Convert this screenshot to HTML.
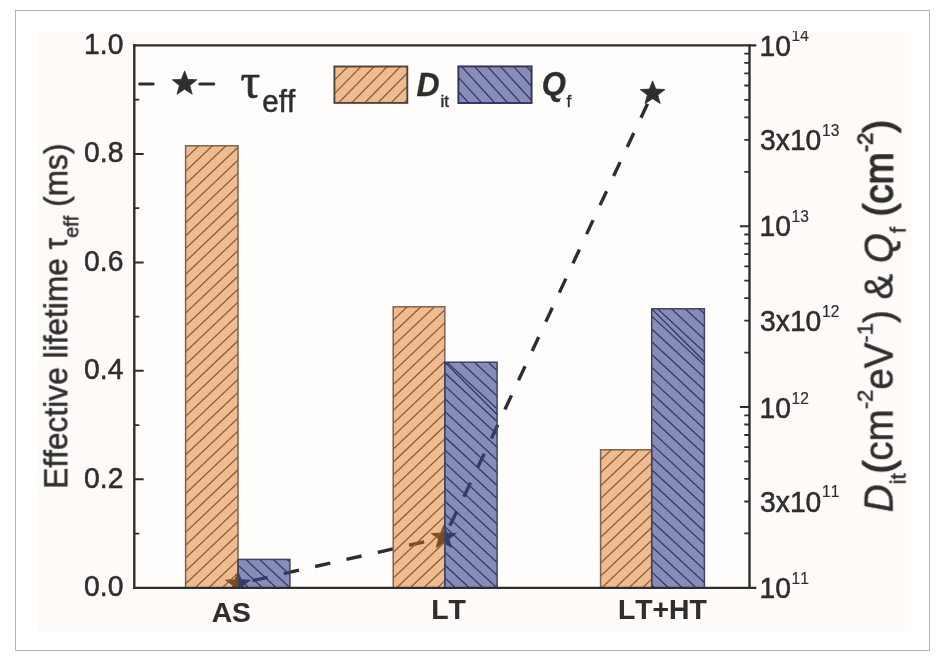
<!DOCTYPE html>
<html lang="en"><head><meta charset="utf-8"><title>Effective lifetime, Dit and Qf chart</title>
<style>html,body{margin:0;padding:0;background:#fff;overflow:hidden}svg{display:block}text{font-family:"Liberation Sans",sans-serif;fill:#2e2e2e;stroke:#2e2e2e;stroke-linejoin:round;font-kerning:none}.ser{font-family:"Liberation Serif",serif}</style>
</head><body>
<svg width="951" height="658" viewBox="0 0 951 658">
<rect x="0" y="0" width="951" height="658" fill="#ffffff"/>
<rect x="15.5" y="10.5" width="914" height="640" fill="#ffffff" stroke="#b4b4b4" stroke-width="1"/>
<rect x="38.0" y="31.6" width="873.2" height="600.2" fill="#fefbf8"/>
<defs>
<clipPath id="imgclip"><rect x="38.0" y="31.6" width="873.2" height="600.2"/></clipPath>
<clipPath id="plotclip"><rect x="134.3" y="45.4" width="615.2" height="542.4"/></clipPath>
<clipPath id="coAS"><rect x="185.6" y="145.8" width="52.4" height="442.0"/></clipPath>
<clipPath id="cbAS"><rect x="238.0" y="559.4" width="51.9" height="28.4"/></clipPath>
<clipPath id="coLT"><rect x="393.2" y="306.8" width="51.6" height="281.0"/></clipPath>
<clipPath id="cbLT"><rect x="444.8" y="362.2" width="52.3" height="225.6"/></clipPath>
<clipPath id="coHT"><rect x="600.6" y="449.8" width="51.1" height="138.0"/></clipPath>
<clipPath id="cbHT"><rect x="651.7" y="308.8" width="52.7" height="279.0"/></clipPath>
<clipPath id="coLG"><rect x="334.4" y="66.5" width="72.9" height="36.4"/></clipPath>
<clipPath id="cbLG"><rect x="458.4" y="66.4" width="73.2" height="36.6"/></clipPath>
<filter id="soft" x="0" y="0" width="100%" height="100%" filterUnits="userSpaceOnUse" color-interpolation-filters="sRGB"><feGaussianBlur stdDeviation="0.55"/></filter>
</defs>
<g clip-path="url(#imgclip)"><g filter="url(#soft)">
<rect x="134.3" y="45.4" width="615.2" height="542.4" fill="#fffdfb"/>
<g clip-path="url(#plotclip)">
<path d="M238.0 584.0 L443.8 537.4" fill="none" stroke="#2e2e2e" stroke-width="3.4" stroke-dasharray="15.5 16.6" stroke-dashoffset="17.2"/>
<path d="M443.8 537.4 C 456 517.4, 632.6 133.4, 652.6 93.4" fill="none" stroke="#2e2e2e" stroke-width="3.4" stroke-dasharray="15.4 16.75" stroke-dashoffset="18.7"/>
<polygon points="238.0,571.5 241.2,579.7 250.4,580.1 243.2,585.6 245.6,594.1 238.0,589.3 230.4,594.1 232.8,585.6 225.6,580.1 234.8,579.7" fill="#2e2e2e" stroke="#2e2e2e" stroke-width="0.8" stroke-linejoin="round"/>
<polygon points="443.8,524.9 447.0,533.1 456.2,533.5 449.0,539.0 451.4,547.5 443.8,542.7 436.2,547.5 438.6,539.0 431.4,533.5 440.6,533.1" fill="#2e2e2e" stroke="#2e2e2e" stroke-width="0.8" stroke-linejoin="round"/>
<polygon points="652.6,80.9 655.8,89.1 665.0,89.5 657.8,95.0 660.2,103.5 652.6,98.7 645.0,103.5 647.4,95.0 640.2,89.5 649.4,89.1" fill="#2e2e2e" stroke="#2e2e2e" stroke-width="0.8" stroke-linejoin="round"/>
</g>
<rect x="185.6" y="145.8" width="52.4" height="442.0" fill="#de6a0b" fill-opacity="0.45"/>
<g clip-path="url(#coAS)" stroke="#8c5d3d" stroke-width="1.3" fill="none">
<path d="M184.6 146.3 L239.0 94.7 M184.6 159.2 L239.0 107.6 M184.6 172.2 L239.0 120.5 M184.6 185.1 L239.0 133.4 M184.6 198.0 L239.0 146.3 M184.6 210.9 L239.0 159.2 M184.6 223.8 L239.0 172.1 M184.6 236.7 L239.0 185.0 M184.6 249.6 L239.0 197.9 M184.6 262.5 L239.0 210.8 M184.6 275.4 L239.0 223.7 M184.6 288.2 L239.0 236.6 M184.6 301.1 L239.0 249.5 M184.6 314.0 L239.0 262.4 M184.6 326.9 L239.0 275.3 M184.6 339.8 L239.0 288.2 M184.6 352.7 L239.0 301.1 M184.6 365.6 L239.0 314.0 M184.6 378.5 L239.0 326.9 M184.6 391.4 L239.0 339.8 M184.6 404.3 L239.0 352.7 M184.6 417.2 L239.0 365.6 M184.6 430.1 L239.0 378.5 M184.6 443.0 L239.0 391.4 M184.6 455.9 L239.0 404.3 M184.6 468.8 L239.0 417.2 M184.6 481.7 L239.0 430.1 M184.6 494.6 L239.0 443.0 M184.6 507.5 L239.0 455.9 M184.6 520.4 L239.0 468.8 M184.6 533.3 L239.0 481.7 M184.6 546.2 L239.0 494.6 M184.6 559.1 L239.0 507.5 M184.6 572.0 L239.0 520.4 M184.6 584.9 L239.0 533.3 M184.6 597.8 L239.0 546.2 M184.6 610.7 L239.0 559.1 M184.6 623.6 L239.0 572.0 M184.6 636.5 L239.0 584.9"/>
</g>
<rect x="185.6" y="145.8" width="52.4" height="442.0" fill="none" stroke="#7d6352" stroke-width="1.5"/>
<rect x="238.0" y="559.4" width="51.9" height="28.4" fill="#3c458c" fill-opacity="0.61"/>
<g clip-path="url(#cbAS)" stroke="#343a66" stroke-width="1.3" fill="none">
<path d="M237.0 512.9 L290.9 563.0 M237.0 525.7 L290.9 575.8 M237.0 538.5 L290.9 588.6 M237.0 551.3 L290.9 601.4 M237.0 564.1 L290.9 614.2 M237.0 576.9 L290.9 627.0"/>
</g>
<rect x="238.0" y="559.4" width="51.9" height="28.4" fill="none" stroke="#3f4466" stroke-width="1.5"/>
<rect x="393.2" y="306.8" width="51.6" height="281.0" fill="#de6a0b" fill-opacity="0.45"/>
<g clip-path="url(#coLT)" stroke="#8c5d3d" stroke-width="1.3" fill="none">
<path d="M392.2 308.2 L445.8 257.3 M392.2 321.1 L445.8 270.2 M392.2 334.0 L445.8 283.1 M392.2 346.9 L445.8 296.0 M392.2 359.8 L445.8 308.9 M392.2 372.7 L445.8 321.8 M392.2 385.6 L445.8 334.7 M392.2 398.5 L445.8 347.6 M392.2 411.4 L445.8 360.5 M392.2 424.3 L445.8 373.4 M392.2 437.2 L445.8 386.3 M392.2 450.1 L445.8 399.2 M392.2 463.0 L445.8 412.1 M392.2 475.9 L445.8 425.0 M392.2 488.8 L445.8 437.9 M392.2 501.7 L445.8 450.8 M392.2 514.6 L445.8 463.7 M392.2 527.5 L445.8 476.6 M392.2 540.4 L445.8 489.5 M392.2 553.3 L445.8 502.4 M392.2 566.2 L445.8 515.3 M392.2 579.1 L445.8 528.2 M392.2 592.0 L445.8 541.1 M392.2 604.9 L445.8 554.0 M392.2 617.8 L445.8 566.9 M392.2 630.7 L445.8 579.8"/>
</g>
<rect x="393.2" y="306.8" width="51.6" height="281.0" fill="none" stroke="#7d6352" stroke-width="1.5"/>
<rect x="444.8" y="362.2" width="52.3" height="225.6" fill="#3c458c" fill-opacity="0.61"/>
<g clip-path="url(#cbLT)" stroke="#343a66" stroke-width="1.3" fill="none">
<path d="M443.8 320.9 L498.1 371.4 M443.8 333.7 L498.1 384.2 M443.8 346.5 L498.1 397.0 M443.8 359.3 L498.1 409.8 M443.8 372.1 L498.1 422.6 M443.8 384.9 L498.1 435.4 M443.8 397.7 L498.1 448.2 M443.8 410.5 L498.1 461.0 M443.8 423.3 L498.1 473.8 M443.8 436.1 L498.1 486.6 M443.8 448.9 L498.1 499.4 M443.8 461.7 L498.1 512.2 M443.8 474.5 L498.1 525.0 M443.8 487.3 L498.1 537.8 M443.8 500.1 L498.1 550.6 M443.8 512.9 L498.1 563.4 M443.8 525.7 L498.1 576.2 M443.8 538.5 L498.1 589.0 M443.8 551.3 L498.1 601.8 M443.8 564.1 L498.1 614.6 M443.8 576.9 L498.1 627.4"/>
</g>
<rect x="444.8" y="362.2" width="52.3" height="225.6" fill="none" stroke="#3f4466" stroke-width="1.5"/>
<rect x="600.6" y="449.8" width="51.1" height="138.0" fill="#de6a0b" fill-opacity="0.45"/>
<g clip-path="url(#coHT)" stroke="#8c5d3d" stroke-width="1.3" fill="none">
<path d="M599.6 460.9 L652.7 410.5 M599.6 473.8 L652.7 423.4 M599.6 486.7 L652.7 436.3 M599.6 499.6 L652.7 449.2 M599.6 512.5 L652.7 462.1 M599.6 525.4 L652.7 475.0 M599.6 538.3 L652.7 487.9 M599.6 551.2 L652.7 500.8 M599.6 564.1 L652.7 513.7 M599.6 577.0 L652.7 526.6 M599.6 589.9 L652.7 539.5 M599.6 602.8 L652.7 552.4 M599.6 615.7 L652.7 565.3 M599.6 628.6 L652.7 578.2"/>
</g>
<rect x="600.6" y="449.8" width="51.1" height="138.0" fill="none" stroke="#7d6352" stroke-width="1.5"/>
<rect x="651.7" y="308.8" width="52.7" height="279.0" fill="#3c458c" fill-opacity="0.61"/>
<g clip-path="url(#cbHT)" stroke="#343a66" stroke-width="1.3" fill="none">
<path d="M650.7 264.0 L705.4 314.8 M650.7 276.8 L705.4 327.6 M650.7 289.6 L705.4 340.4 M650.7 302.4 L705.4 353.2 M650.7 315.2 L705.4 366.0 M650.7 328.0 L705.4 378.8 M650.7 340.8 L705.4 391.6 M650.7 353.6 L705.4 404.4 M650.7 366.4 L705.4 417.2 M650.7 379.2 L705.4 430.0 M650.7 392.0 L705.4 442.8 M650.7 404.8 L705.4 455.6 M650.7 417.6 L705.4 468.4 M650.7 430.4 L705.4 481.2 M650.7 443.2 L705.4 494.0 M650.7 456.0 L705.4 506.8 M650.7 468.8 L705.4 519.6 M650.7 481.6 L705.4 532.4 M650.7 494.4 L705.4 545.2 M650.7 507.2 L705.4 558.0 M650.7 520.0 L705.4 570.8 M650.7 532.8 L705.4 583.6 M650.7 545.6 L705.4 596.4 M650.7 558.4 L705.4 609.2 M650.7 571.2 L705.4 622.0 M650.7 584.0 L705.4 634.8"/>
</g>
<rect x="651.7" y="308.8" width="52.7" height="279.0" fill="none" stroke="#3f4466" stroke-width="1.5"/>
<path d="M444.8 362.2 L497.1 414.5 M651.7 308.8 L704.4 361.5" stroke="#2d3260" stroke-width="1.2" fill="none"/>
<g stroke="#2e2e2e" fill="none">
<path d="M134.3 44.3 V588.9 M749.5 44.3 V588.9" stroke-width="2.4"/>
<path d="M133.1 587.8 H750.7" stroke-width="2.2"/>
<path d="M133.1 45.4 H756.3 M749.5 587.8 H756.3" stroke-width="2.2"/>
<path d="M134.3 479.3 h9.4 M134.3 370.8 h9.4 M134.3 262.4 h9.4 M134.3 153.9 h9.4" stroke-width="2"/>
<path d="M134.3 533.6 h5 M134.3 425.1 h5 M134.3 316.6 h5 M134.3 208.1 h5 M134.3 99.6 h5" stroke-width="1.8"/>
<path d="M749.5 407.0 h-9.6 M749.5 226.2 h-9.6" stroke-width="2"/>
<path d="M749.5 533.4 h-5.2 M749.5 501.5 h-5.2 M749.5 478.9 h-5.2 M749.5 461.4 h-5.2 M749.5 447.1 h-5.2 M749.5 435.0 h-5.2 M749.5 424.5 h-5.2 M749.5 415.3 h-5.2 M749.5 352.6 h-5.2 M749.5 320.7 h-5.2 M749.5 298.1 h-5.2 M749.5 280.6 h-5.2 M749.5 266.3 h-5.2 M749.5 254.2 h-5.2 M749.5 243.7 h-5.2 M749.5 234.5 h-5.2 M749.5 171.8 h-5.2 M749.5 139.9 h-5.2 M749.5 117.3 h-5.2 M749.5 99.8 h-5.2 M749.5 85.5 h-5.2 M749.5 73.4 h-5.2 M749.5 62.9 h-5.2 M749.5 53.7 h-5.2" stroke-width="1.8"/>
</g>
<text transform="translate(123.4 596.3) scale(1 1.045)" font-size="28.3" stroke-width="0.5" text-anchor="end">0.0</text>
<text transform="translate(123.4 487.8) scale(1 1.045)" font-size="28.3" stroke-width="0.5" text-anchor="end">0.2</text>
<text transform="translate(123.4 379.3) scale(1 1.045)" font-size="28.3" stroke-width="0.5" text-anchor="end">0.4</text>
<text transform="translate(123.4 270.9) scale(1 1.045)" font-size="28.3" stroke-width="0.5" text-anchor="end">0.6</text>
<text transform="translate(123.4 162.4) scale(1 1.045)" font-size="28.3" stroke-width="0.5" text-anchor="end">0.8</text>
<text transform="translate(123.4 53.9) scale(1 1.045)" font-size="28.3" stroke-width="0.5" text-anchor="end">1.0</text>
<text transform="translate(759.4 55.6) scale(1 1.045)" font-size="28.3" stroke-width="0.5" >10<tspan font-size="15.5" dy="-13.6" dx="0.7" stroke-width="0.2">14</tspan></text>
<text transform="translate(760.0 150.1) scale(1 1.045)" font-size="28.3" stroke-width="0.5" >3x10<tspan font-size="15.5" dy="-13.6" dx="0.7" stroke-width="0.2">13</tspan></text>
<text transform="translate(759.4 236.4) scale(1 1.045)" font-size="28.3" stroke-width="0.5" >10<tspan font-size="15.5" dy="-13.6" dx="0.7" stroke-width="0.2">13</tspan></text>
<text transform="translate(760.0 330.9) scale(1 1.045)" font-size="28.3" stroke-width="0.5" >3x10<tspan font-size="15.5" dy="-13.6" dx="0.7" stroke-width="0.2">12</tspan></text>
<text transform="translate(759.4 418.4) scale(1 1.045)" font-size="28.3" stroke-width="0.5" >10<tspan font-size="15.5" dy="-13.6" dx="0.7" stroke-width="0.2">12</tspan></text>
<text transform="translate(760.0 511.7) scale(1 1.045)" font-size="28.3" stroke-width="0.5" >3x10<tspan font-size="15.5" dy="-13.6" dx="0.7" stroke-width="0.2">11</tspan></text>
<text transform="translate(759.4 598.0) scale(1 1.045)" font-size="28.3" stroke-width="0.5" >10<tspan font-size="15.5" dy="-13.6" dx="0.7" stroke-width="0.2">11</tspan></text>
<text transform="translate(231.3 622.2) scale(1 1.000)" font-size="28.3" stroke-width="0.1" font-weight="bold" text-anchor="middle">AS</text>
<text transform="translate(448.5 619.3) scale(1 1.000)" font-size="28.3" stroke-width="0.1" font-weight="bold" text-anchor="middle">LT</text>
<text transform="translate(662.4 619.4) scale(1 1.000)" font-size="28.3" stroke-width="0.1" font-weight="bold" text-anchor="middle">LT+HT</text>
<g stroke="#2e2e2e" stroke-width="3" stroke-linecap="round" fill="none"><path d="M139.6 84 H153.2 M199.8 84 H213.8"/></g>
<polygon points="184.6,70.9 187.8,79.4 196.9,79.8 189.8,85.5 192.2,94.2 184.6,89.2 177.0,94.2 179.4,85.5 172.3,79.8 181.4,79.4" fill="#2e2e2e" stroke="#2e2e2e" stroke-width="0.8" stroke-linejoin="round"/>
<text transform="translate(240.5 98.0) scale(1 1.045)" font-size="49" stroke-width="0.7" class="ser">τ</text>
<text transform="translate(262.3 112.0) scale(1 1.045)" font-size="29.5" stroke-width="0.5" >eff</text>
<rect x="334.4" y="66.5" width="72.9" height="36.4" fill="#de6a0b" fill-opacity="0.45"/>
<g clip-path="url(#coLG)" stroke="#8c5d3d" stroke-width="1.3" fill="none">
<path d="M333.4 67.9 L408.3 -8.5 M333.4 81.3 L408.3 4.9 M333.4 94.7 L408.3 18.3 M333.4 108.1 L408.3 31.7 M333.4 121.5 L408.3 45.1 M333.4 134.9 L408.3 58.5 M333.4 148.3 L408.3 71.9 M333.4 161.7 L408.3 85.3 M333.4 175.1 L408.3 98.7"/>
</g>
<rect x="334.4" y="66.5" width="72.9" height="36.4" fill="none" stroke="#4f433b" stroke-width="1.9"/>
<rect x="458.4" y="66.4" width="73.2" height="36.6" fill="#3c458c" fill-opacity="0.61"/>
<g clip-path="url(#cbLG)" stroke="#343a66" stroke-width="1.3" fill="none">
<path d="M457.4 -9.6 L532.6 73.1 M457.4 4.7 L532.6 87.4 M457.4 19.0 L532.6 101.7 M457.4 33.3 L532.6 116.0 M457.4 47.6 L532.6 130.3 M457.4 61.9 L532.6 144.6 M457.4 76.2 L532.6 158.9 M457.4 90.5 L532.6 173.2"/>
</g>
<rect x="458.4" y="66.4" width="73.2" height="36.6" fill="none" stroke="#30345a" stroke-width="1.9"/>
<text transform="translate(416.5 95.6) scale(1 1.045)" font-size="32" stroke-width="0.3" font-weight="bold" font-style="italic">D</text>
<text transform="translate(440.4 107.0) scale(1 1.000)" font-size="17.3" stroke-width="0.4" >it</text>
<text transform="translate(541.8 94.8) scale(1 1.045)" font-size="31" stroke-width="0.3" font-weight="bold" font-style="italic">Q</text>
<text transform="translate(566.5 107.3) scale(1 1.000)" font-size="17.3" stroke-width="0.4" >f</text>
<text transform="translate(67.6 488.8) rotate(-90) scale(1 1.045)" font-size="31.7" stroke-width="0.5" >Effective lifetime <tspan textLength="11.4" lengthAdjust="spacingAndGlyphs">τ</tspan><tspan font-size="20" dy="10.5">eff</tspan><tspan dy="-10.5"> (ms)</tspan></text>
<text transform="translate(892.4 512.2) rotate(-90) scale(1 1.045)" font-size="38.5" stroke-width="0.5" ><tspan font-style="italic">D</tspan><tspan font-size="22" dy="12.5">it</tspan><tspan dy="-12.5" stroke-width="1.5">(</tspan>cm<tspan font-size="22" dy="-19">-2</tspan><tspan dy="19">eV</tspan><tspan font-size="22" dy="-19">-1</tspan><tspan dy="19">) &amp; </tspan><tspan font-style="italic">Q</tspan><tspan font-size="22" dy="12.5">f</tspan><tspan dy="-12.5"> </tspan><tspan stroke-width="1.4">(cm<tspan font-size="22" dy="-19" stroke-width="0.9">-2</tspan><tspan dy="19">)</tspan></tspan></text>
</g></g>
</svg>
</body></html>
